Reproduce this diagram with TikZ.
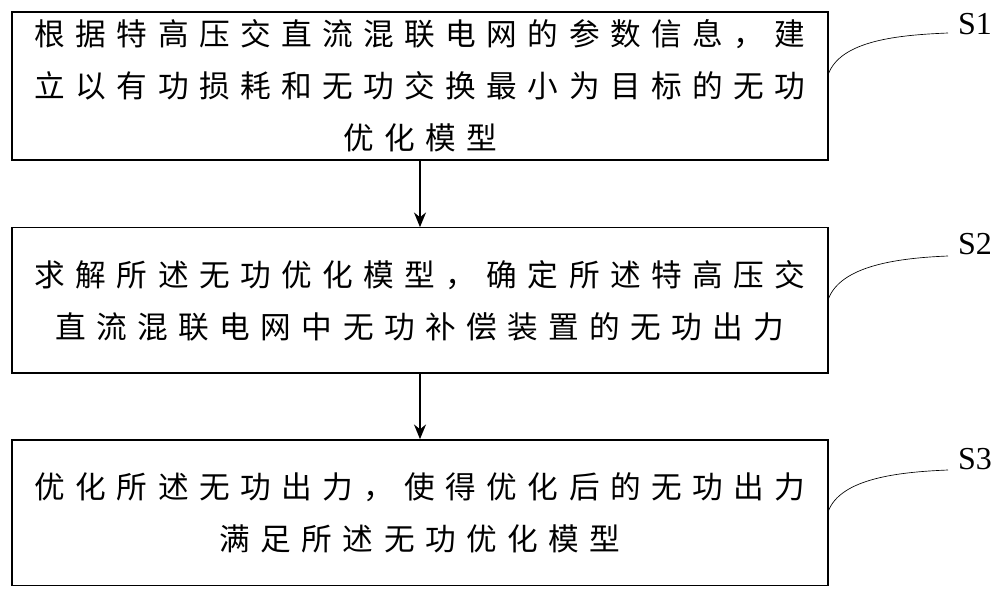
\documentclass[tikz,border=0pt]{standalone}
\usepackage{fontspec}
\usetikzlibrary{arrows.meta}
\setmainfont{Liberation Serif}
\newfontfamily\cjk[LetterSpace=34]{Noto Sans CJK SC}
\begin{document}
\begin{tikzpicture}[x=0.75pt,y=-0.75pt,
  boxstyle/.style={draw,line width=1pt,minimum width=612pt,inner sep=0pt,font=\cjk\fontsize{23}{39}\selectfont,align=center},
  arr/.style={-{Stealth[length=11pt,width=9pt]},line width=1.5pt},
  lbl/.style={font=\fontsize{24}{28}\selectfont},
  crv/.style={line width=0.5pt}]
\useasboundingbox (0,0) rectangle (1000,595);
\node[boxstyle,minimum height=111pt] (b1) at (420,86) {根据特高压交直流混联电网的参数信息，建\\立以有功损耗和无功交换最小为目标的无功\\优化模型};
\node[boxstyle,minimum height=109pt] (b2) at (420,300.5) {求解所述无功优化模型，确定所述特高压交\\直流混联电网中无功补偿装置的无功出力};
\node[boxstyle,minimum height=109pt] (b3) at (420,512.5) {优化所述无功出力，使得优化后的无功出力\\满足所述无功优化模型};
\draw[arr] (b1.south) -- (b2.north);
\draw[arr] (b2.south) -- (b3.north);
\node[lbl] (s1) at (975,24) {S1};
\node[lbl] (s2) at (975,244) {S2};
\node[lbl] (s3) at (975,459) {S3};
\coordinate (e1) at (828,75); \coordinate (e2) at (828,300); \coordinate (e3) at (828,512);
\draw[crv] (e1) .. controls (840,40) and (900,35) .. (948,33);
\draw[crv] (e2) .. controls (840,265) and (900,258) .. (948,256);
\draw[crv] (e3) .. controls (840,478) and (900,472) .. (948,470);
\end{tikzpicture}
\end{document}
